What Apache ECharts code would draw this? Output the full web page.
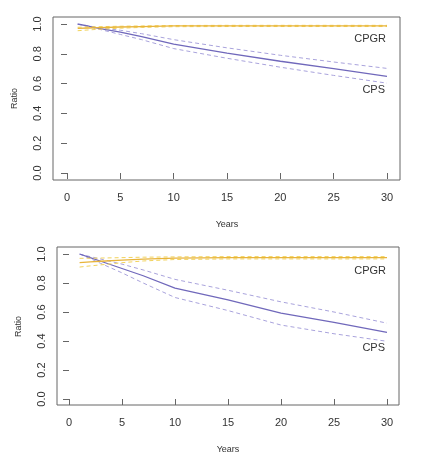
<!DOCTYPE html>
<html>
<head>
<meta charset="utf-8">
<script src="https://cdn.jsdelivr.net/npm/echarts@6/dist/echarts.min.js"></script>
<style>
  html, body { margin: 0; padding: 0; background: #fff; }
  #chart { width: 442px; height: 460px; }
</style>
</head>
<body>
<div id="chart"></div>
<script>
const years = [1, 2, 3, 5, 7, 10, 15, 20, 25, 30];

// top panel
const topCps      = [1.0, 0.985, 0.970, 0.945, 0.915, 0.865, 0.805, 0.750, 0.700, 0.648];
const topCpsHigh  = [1.0, 0.988, 0.975, 0.958, 0.935, 0.895, 0.840, 0.790, 0.745, 0.702];
const topCpsLow   = [1.0, 0.982, 0.965, 0.930, 0.895, 0.835, 0.770, 0.710, 0.655, 0.603];
const topCpgr     = [0.970, 0.973, 0.976, 0.980, 0.983, 0.987, 0.988, 0.988, 0.988, 0.988];
const topCpgrHigh = [0.978, 0.980, 0.982, 0.985, 0.987, 0.990, 0.991, 0.991, 0.991, 0.991];
const topCpgrLow  = [0.955, 0.960, 0.965, 0.972, 0.977, 0.982, 0.983, 0.983, 0.983, 0.983];

// bottom panel
const botCps      = [1.0, 0.975, 0.950, 0.900, 0.850, 0.765, 0.683, 0.592, 0.528, 0.459];
const botCpsHigh  = [1.0, 0.982, 0.965, 0.930, 0.890, 0.825, 0.750, 0.670, 0.600, 0.523];
const botCpsLow   = [1.0, 0.968, 0.935, 0.870, 0.800, 0.700, 0.610, 0.510, 0.450, 0.398];
const botCpgr     = [0.940, 0.945, 0.950, 0.958, 0.965, 0.972, 0.975, 0.975, 0.975, 0.975];
const botCpgrHigh = [0.970, 0.971, 0.972, 0.975, 0.978, 0.980, 0.982, 0.982, 0.982, 0.982];
const botCpgrLow  = [0.910, 0.918, 0.925, 0.940, 0.952, 0.962, 0.966, 0.966, 0.966, 0.966];

const FONT = "'Liberation Sans', Arial, sans-serif";
const AXIS_COLOR = '#666';
const TEXT_COLOR = '#333';
const CPS_COLOR = '#7068bb';
const CPS_DASH = '#a9a3dc';
const CPGR_COLOR = '#e8b43a';
const CPGR_DASH = '#f2d35c';

const chart = echarts.init(document.getElementById('chart'));

const pairs = (vals) => years.map((y, i) => [y, vals[i]]);

const boxAxes = (idx) => ({
  x: { gridIndex: idx, type: 'value', show: false, min: 0, max: 1 },
  y: { gridIndex: idx, type: 'value', show: false, min: 0, max: 1 },
});

const dataX = (idx, offset) => ({
  gridIndex: idx,
  type: 'value',
  min: 0,
  max: 30,
  interval: 5,
  offset,
  axisLine: { show: false },
  axisTick: { show: true, inside: false, length: 6, lineStyle: { color: AXIS_COLOR } },
  axisLabel: { color: TEXT_COLOR, fontSize: 11, fontFamily: FONT, margin: 12 },
  splitLine: { show: false },
  name: 'Years',
  nameLocation: 'middle',
  nameGap: 40,
  nameTextStyle: { color: TEXT_COLOR, fontSize: 9, fontFamily: FONT },
});

const dataY = (idx, offset) => ({
  gridIndex: idx,
  type: 'value',
  min: 0,
  max: 1,
  interval: 0.2,
  offset,
  axisLine: { show: false },
  axisTick: { show: true, inside: false, length: 6, lineStyle: { color: AXIS_COLOR } },
  axisLabel: {
    color: TEXT_COLOR, fontSize: 11, fontFamily: FONT, margin: 10, rotate: 90,
    formatter: (v) => v.toFixed(1),
  },
  splitLine: { show: false },
  name: 'Ratio',
  nameLocation: 'middle',
  nameRotate: 90,
  nameGap: 34,
  nameTextStyle: { color: TEXT_COLOR, fontSize: 9, fontFamily: FONT },
});

const line = (idx, vals, color, dashed, label) => ({
  type: 'line',
  xAxisIndex: idx,
  yAxisIndex: idx,
  data: pairs(vals),
  symbol: 'none',
  silent: true,
  lineStyle: { color, width: dashed ? 1 : 1.3, type: dashed ? [4, 3] : 'solid' },
  endLabel: label ? {
    show: true,
    formatter: label.text,
    color: TEXT_COLOR,
    fontSize: 11,
    fontFamily: FONT,
    align: 'right',
    verticalAlign: 'middle',
    offset: label.offset,
  } : { show: false },
});

const b0 = boxAxes(0), b2 = boxAxes(2);

chart.setOption({
  animation: false,
  backgroundColor: '#fff',
  grid: [
    { left: 53, top: 17, width: 347, height: 163, show: true, borderColor: AXIS_COLOR, borderWidth: 1, backgroundColor: 'transparent' },
    { left: 67, top: 24, width: 320, height: 149 },
    { left: 57, top: 247, width: 342, height: 158, show: true, borderColor: AXIS_COLOR, borderWidth: 1, backgroundColor: 'transparent' },
    { left: 69, top: 254, width: 318, height: 145 },
  ],
  xAxis: [b0.x, dataX(1, 7), b2.x, dataX(3, 6)],
  yAxis: [b0.y, dataY(1, 14), b2.y, dataY(3, 12)],
  series: [
    line(1, topCpsHigh, CPS_DASH, true),
    line(1, topCpsLow, CPS_DASH, true, { text: 'CPS', offset: [-10, 7] }),
    line(1, topCps, CPS_COLOR, false),
    line(1, topCpgrHigh, CPGR_DASH, true),
    line(1, topCpgrLow, CPGR_DASH, true, { text: 'CPGR', offset: [-9, 12] }),
    line(1, topCpgr, CPGR_COLOR, false),

    line(3, botCpsHigh, CPS_DASH, true),
    line(3, botCpsLow, CPS_DASH, true, { text: 'CPS', offset: [-10, 7] }),
    line(3, botCps, CPS_COLOR, false),
    line(3, botCpgrHigh, CPGR_DASH, true),
    line(3, botCpgrLow, CPGR_DASH, true, { text: 'CPGR', offset: [-9, 12] }),
    line(3, botCpgr, CPGR_COLOR, false),
  ],
});
</script>
</body>
</html>
